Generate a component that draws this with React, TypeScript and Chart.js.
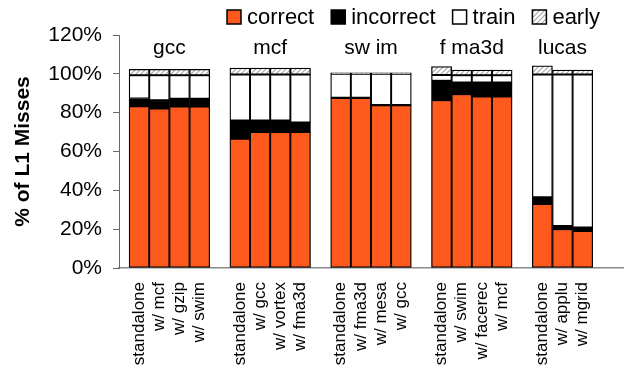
import React, { useEffect, useRef } from "react";
import { Chart, registerables } from "chart.js";

Chart.register(...registerables);

// ---- data ----
const groups = ["gcc", "mcf", "sw im", "f ma3d", "lucas"];
const runLabels = [
  ["standalone", "w/ mcf", "w/ gzip", "w/ swim"],
  ["standalone", "w/ gcc", "w/ vortex", "w/ fma3d"],
  ["standalone", "w/ fma3d", "w/ mesa", "w/ gcc"],
  ["standalone", "w/ swim", "w/ facerec", "w/ mcf"],
  ["standalone", "w/ applu", "w/ mgrid"],
];
const correct = [
  [83.3, 82.1, 83.2, 83.2],
  [66.5, 70, 70, 70],
  [87.5, 87.5, 83.8, 83.8],
  [86.4, 89.5, 88.3, 88.3],
  [33, 20, 19],
];
const incorrect = [
  [4, 4.3, 4, 4],
  [9.5, 6, 6, 5],
  [0.2, 0.2, 0.2, 0.2],
  [10, 6, 7.2, 7.2],
  [3.4, 1.6, 1.9],
];
const train = [
  [12, 12.9, 12.1, 12.1],
  [23.7, 23.7, 23.7, 24.7],
  [12.3, 12.3, 16, 16],
  [3, 3.8, 3.8, 3.8],
  [63.3, 78.1, 78.8],
];
const early = [
  [3, 3, 3, 3],
  [3.3, 3.3, 3.3, 3.3],
  [0.5, 0.5, 0.5, 0.5],
  [4.3, 2.6, 2.6, 2.6],
  [4.4, 2.2, 2.2],
];
const seriesNames = ["correct", "incorrect", "train", "early"];
const yTicks = [0, 20, 40, 60, 80, 100, 120];
const yTitle = "% of L1 Misses";

// ---- flatten with gap slots ----
function buildSlots() {
  const labels: string[] = [""];
  const cols: (number | null)[][] = [[null], [null], [null], [null]];
  const ranges: [number, number][] = [];
  const src = [correct, incorrect, train, early];
  groups.forEach((_, g) => {
    if (g > 0) {
      labels.push("");
      cols.forEach((c) => c.push(null));
    }
    const start = labels.length;
    runLabels[g].forEach((l, i) => {
      labels.push(l);
      cols.forEach((c, s) => c.push(src[s][g][i]));
    });
    ranges.push([start, labels.length - 1]);
  });
  for (let k = 0; k < 2; k++) {
    labels.push("");
    cols.forEach((c) => c.push(null));
  }
  return { labels, cols, ranges };
}

const FONT = "'Liberation Sans', Arial, sans-serif";

function makeHatch(): CanvasPattern | string {
  const c = document.createElement("canvas");
  const n = 5;
  c.width = n;
  c.height = n;
  const x = c.getContext("2d");
  if (!x) return "#ddd";
  x.fillStyle = "#ffffff";
  x.fillRect(0, 0, n, n);
  x.strokeStyle = "#a8a8a8";
  x.lineWidth = 1.2;
  x.beginPath();
  x.moveTo(0, n);
  x.lineTo(n, 0);
  x.moveTo(-1, 1);
  x.lineTo(1, -1);
  x.moveTo(n - 1, n + 1);
  x.lineTo(n + 1, n - 1);
  x.stroke();
  const p = x.createPattern(c, "repeat");
  return p || "#ddd";
}

export default function App() {
  const ref = useRef<HTMLCanvasElement | null>(null);

  useEffect(() => {
    const canvas = ref.current;
    if (!canvas) return;
    const { labels, cols, ranges } = buildSlots();
    const hatch = makeHatch();
    const fills: any[] = ["#FF5A1E", "#000000", "#ffffff", hatch];

    const groupTitles = {
      id: "groupTitles",
      afterDraw(chart: any) {
        const ctx = chart.ctx;
        const xs = chart.scales.x;
        const ys = chart.scales.y;
        ctx.save();
        ctx.font = `21px ${FONT}`;
        ctx.fillStyle = "#000";
        ctx.textAlign = "center";
        ctx.textBaseline = "alphabetic";
        ranges.forEach(([a, b], g) => {
          const cx = (xs.getPixelForValue(a) + xs.getPixelForValue(b)) / 2;
          ctx.fillText(groups[g], cx, ys.getPixelForValue(110));
        });
        ctx.restore();
      },
    };

    const legendPlugin = {
      id: "customLegend",
      afterDraw(chart: any) {
        const ctx = chart.ctx;
        ctx.save();
        ctx.font = `22px ${FONT}`;
        ctx.textBaseline = "middle";
        ctx.textAlign = "left";
        let x = 227;
        const boxTop = 10;
        const box = 14;
        chart.data.datasets.forEach((ds: any) => {
          ctx.fillStyle = ds.backgroundColor;
          ctx.fillRect(x, boxTop, box, box);
          ctx.strokeStyle = "#000";
          ctx.lineWidth = 1.5;
          ctx.strokeRect(x, boxTop, box, box);
          ctx.fillStyle = "#000";
          const tx = x + box + 6;
          ctx.fillText(ds.label, tx, boxTop + box / 2 + 1);
          x = tx + ctx.measureText(ds.label).width + 17;
        });
        ctx.restore();
      },
    };

    const chart = new Chart(canvas, {
      type: "bar",
      data: {
        labels,
        datasets: seriesNames.map((name, s) => ({
          label: name,
          data: cols[s],
          backgroundColor: fills[s],
          borderColor: "#000",
          borderWidth: 1.3,
          borderSkipped: false,
          barPercentage: 1,
          categoryPercentage: 1,
        })),
      },
      options: {
        responsive: false,
        animation: false,
        layout: { padding: { top: 35, right: 4, left: 0, bottom: 0 } },
        plugins: {
          legend: { display: false },
          tooltip: { enabled: false },
        },
        scales: {
          x: {
            stacked: true,
            offset: false,
            grid: { display: false, drawTicks: false },
            border: { display: true, color: "#8a8a8a", width: 1.5 },
            ticks: {
              autoSkip: false,
              minRotation: 90,
              maxRotation: 90,
              padding: 14,
              color: "#000",
              font: { family: FONT, size: 17 },
            },
            afterFit: (scale: any) => {
              scale.height = 101;
              scale.paddingLeft = 0;
              scale.paddingRight = 0;
            },
          },
          y: {
            stacked: true,
            min: 0,
            max: 120,
            afterBuildTicks: (scale: any) => {
              scale.ticks = yTicks.map((v) => ({ value: v }));
            },
            grid: {
              drawOnChartArea: false,
              drawTicks: true,
              tickLength: 6,
              color: "#666",
            },
            border: { display: true, color: "#666", width: 1 },
            ticks: {
              padding: 11,
              color: "#000",
              font: { family: FONT, size: 21 },
              callback: (v: any) => `${v}%`,
            },
            title: {
              display: true,
              text: yTitle,
              color: "#000",
              font: { family: FONT, size: 21, weight: "bold" },
              padding: { top: 11, bottom: 0 },
            },
            afterFit: (scale: any) => {
              scale.width = 119;
              scale.paddingTop = 0;
              scale.paddingBottom = 0;
            },
          },
        },
      },
      plugins: [groupTitles, legendPlugin],
    } as any);

    return () => chart.destroy();
  }, []);

  return (
    <div style={{ position: "absolute", left: 0, top: 0, width: 627, height: 369 }}>
      <canvas ref={ref} width={627} height={369} style={{ display: "block" }} />
    </div>
  );
}
